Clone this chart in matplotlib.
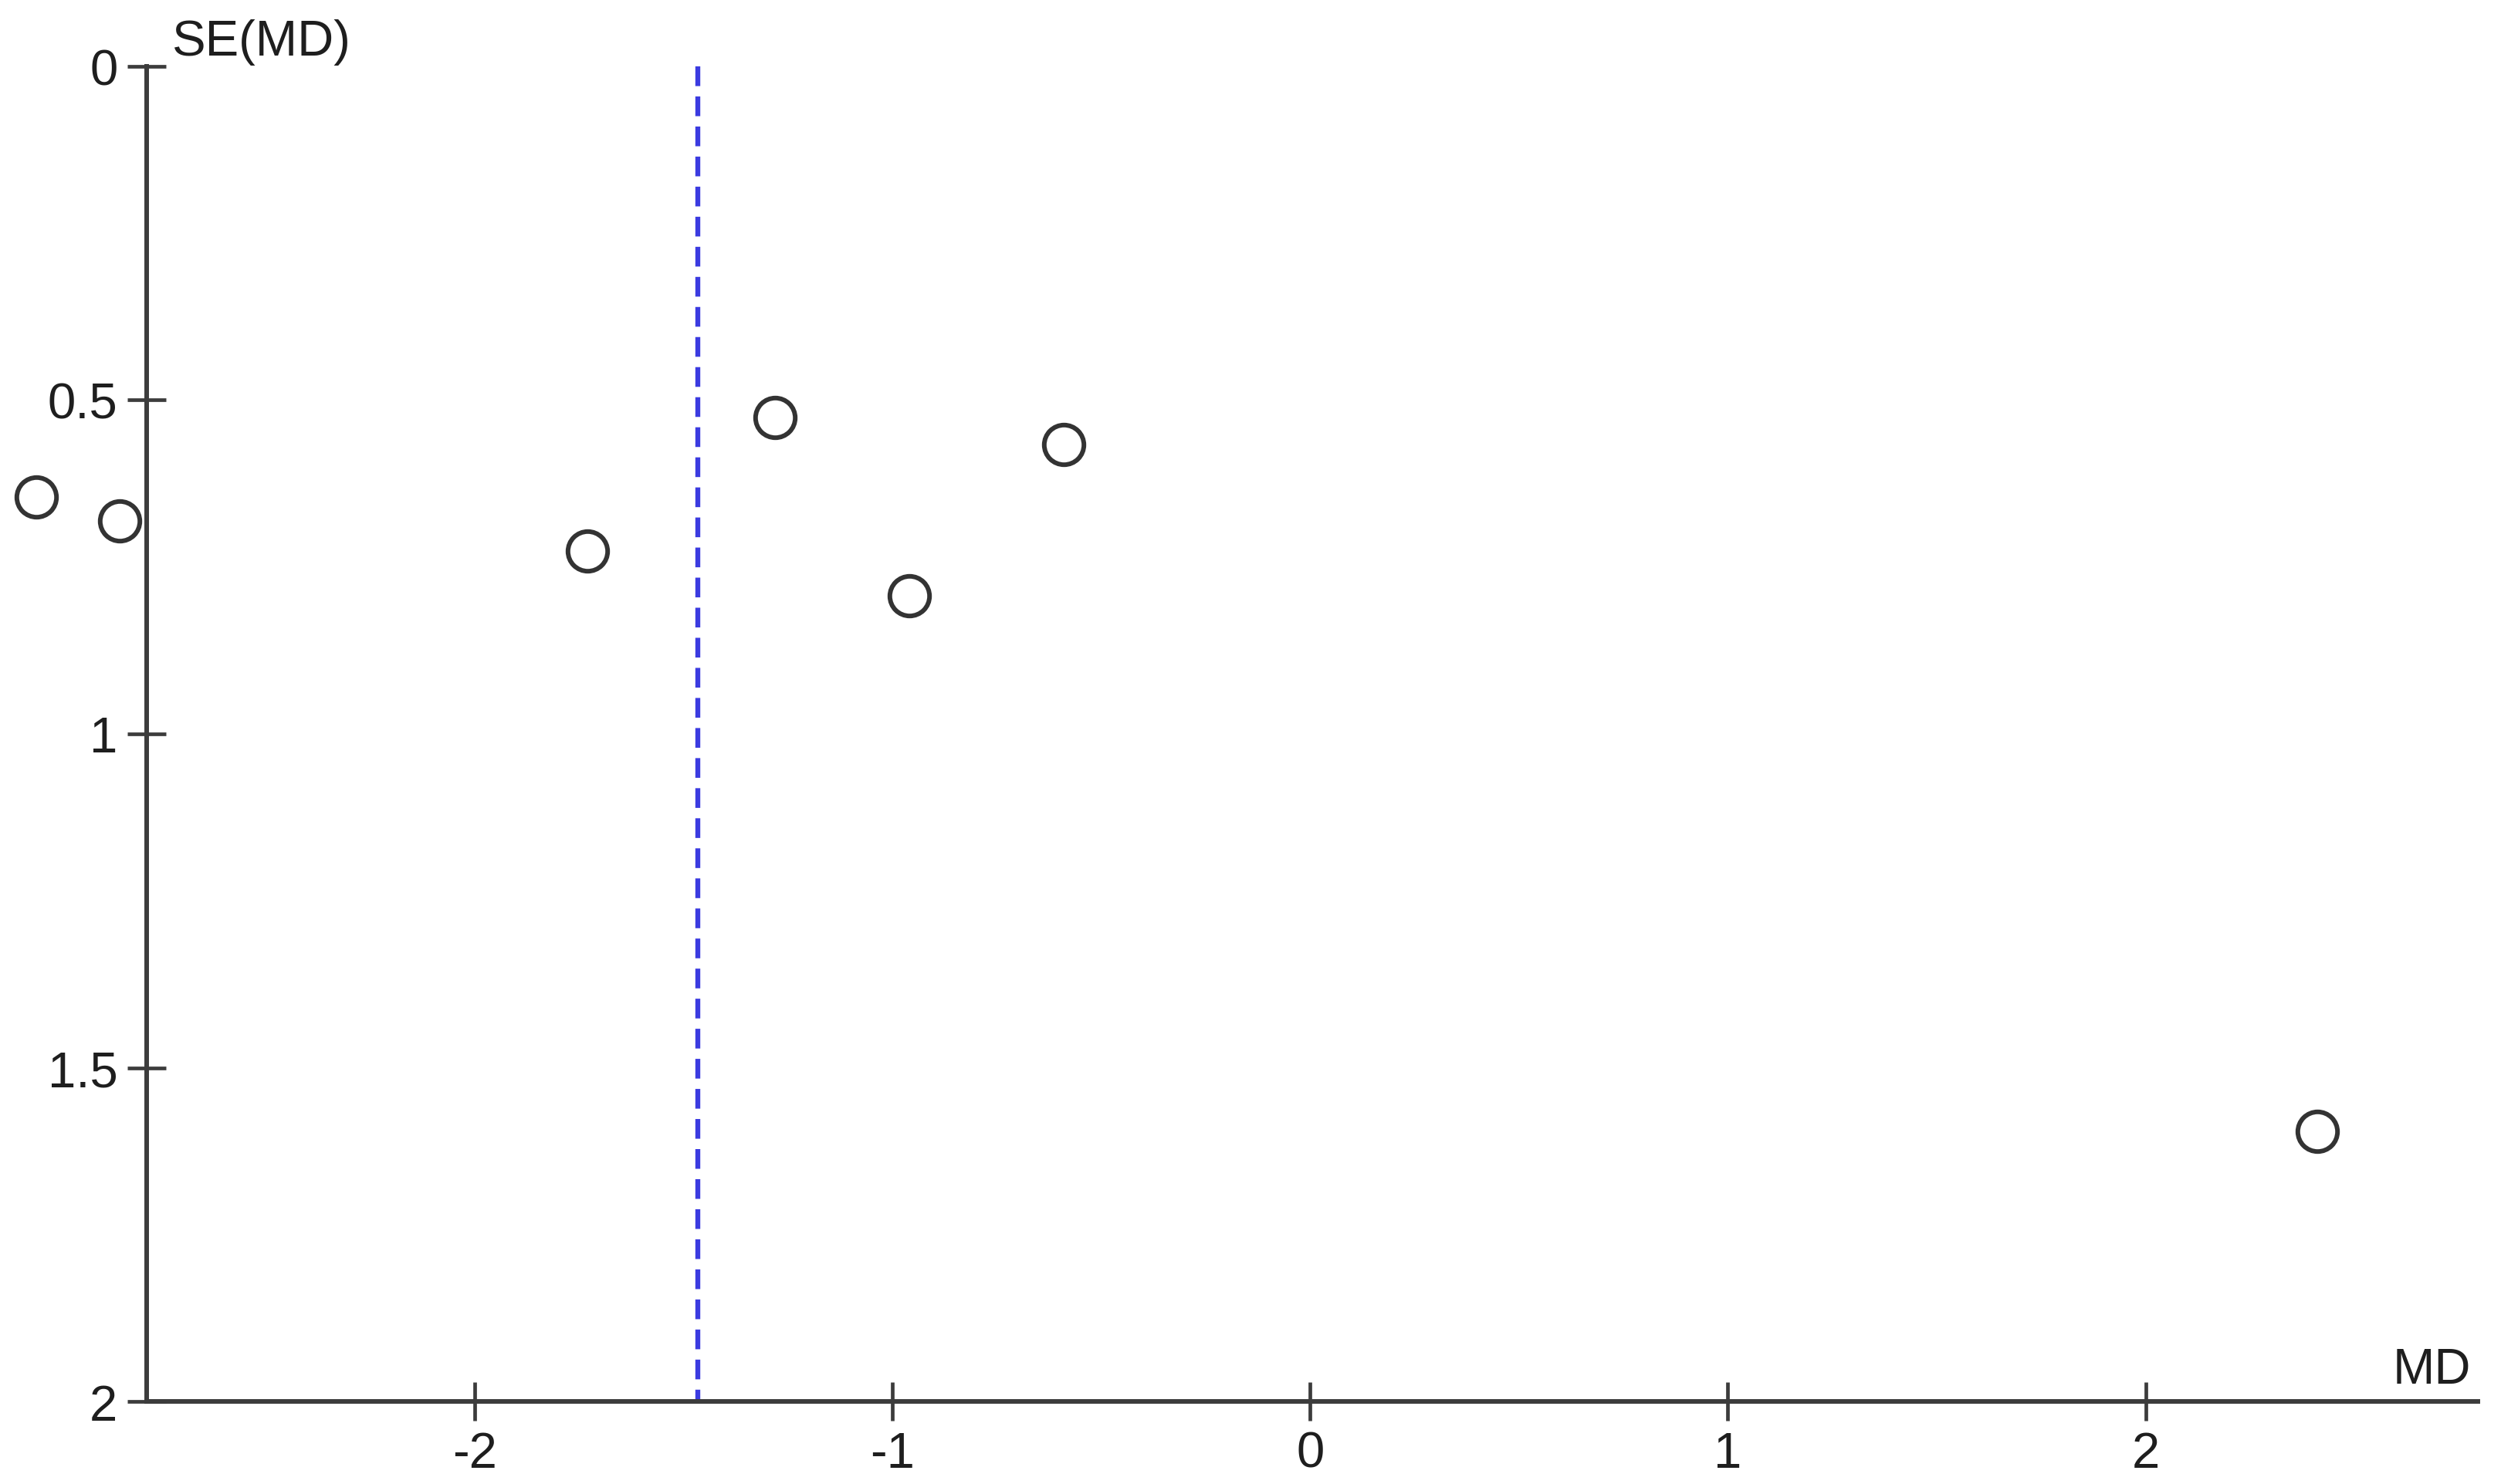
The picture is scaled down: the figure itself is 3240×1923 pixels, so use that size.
import matplotlib
matplotlib.use("Agg")
import matplotlib.pyplot as plt

plt.rcParams['font.family'] = ['Liberation Sans', 'DejaVu Sans']

# study estimates
md = [-3.05, -2.85, -1.73, -1.28, -0.96, -0.59, 2.41]
se = [0.645, 0.681, 0.726, 0.526, 0.793, 0.566, 1.595]
pooled_md = -1.465

xticks = [-2, -1, 0, 1, 2]
xtick_labels = ['-2', '-1', '0', '1', '2']
yticks = [0, 0.5, 1, 1.5, 2]
ytick_labels = ['0', '0.5', '1', '1.5', '2']

fig = plt.figure(figsize=(32.41, 19.24), dpi=100)
ax = fig.add_axes([0.0586, 0.0556, 0.9318, 0.8992])

axis_col = '#3c3c3c'
text_col = '#1e1e1e'

# pooled estimate line
ax.plot([pooled_md, pooled_md], [0, 2], color='#3b3be0', lw=4.6,
        linestyle=(0, (4.0, 2.1)), zorder=2)

# studies
ax.plot(md, se, linestyle='none', marker='o', markersize=37,
        markerfacecolor='none', markeredgecolor='#333333',
        markeredgewidth=4.3, clip_on=False, zorder=3)

ax.set_xlim(-2.785, 2.795)
ax.set_ylim(2, 0)

for s in ['top', 'right']:
    ax.spines[s].set_visible(False)
for s in ['left', 'bottom']:
    ax.spines[s].set_color(axis_col)
    ax.spines[s].set_linewidth(4.3)

ax.set_xticks(xticks)
ax.set_xticklabels(xtick_labels)
ax.set_yticks(yticks)
ax.set_yticklabels(ytick_labels)
ax.tick_params(axis='both', direction='inout', length=36, width=3.4,
               color=axis_col, labelsize=47, labelcolor=text_col, pad=9)

ax.annotate('SE(MD)', xy=(0, 1), xycoords='axes fraction',
            xytext=(24, 11), textcoords='offset points',
            ha='left', va='baseline', fontsize=47, color=text_col)
ax.annotate('MD', xy=(1, 0), xycoords='axes fraction',
            xytext=(-6, 17), textcoords='offset points',
            ha='right', va='baseline', fontsize=47, color=text_col)

fig.savefig('out.png', dpi=100, facecolor='white')
